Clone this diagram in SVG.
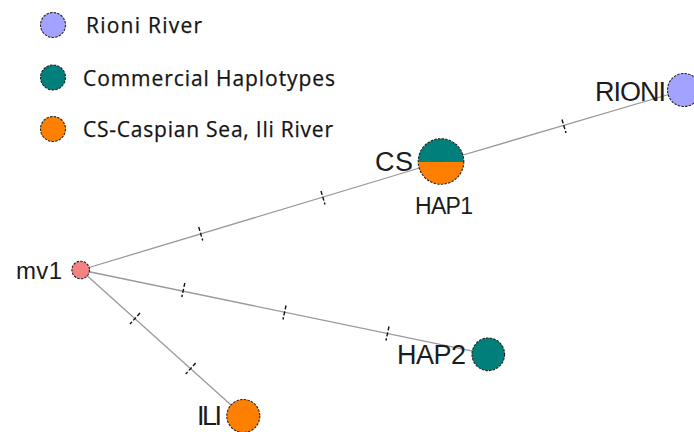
<svg xmlns="http://www.w3.org/2000/svg" width="694" height="432" viewBox="0 0 694 432">
  <style>
    .legend-text { font-family: "Open Sans", "Lato", sans-serif; font-size: 21px; fill: #141414; stroke: #141414; stroke-width: 0.25; }
    .label { font-family: "Liberation Sans", Arial, sans-serif; fill: #1c1c1c; }
    .node { stroke: #222; stroke-width: 1.1; stroke-dasharray: 2.5 1.2; }
    .key { stroke: #222; stroke-width: 1.1; stroke-dasharray: 2.5 1.2; }
    .edge { stroke: #9a9a9a; stroke-width: 1.3; fill: none; }
    .tick { stroke: #111; stroke-width: 1.4; stroke-dasharray: 4 2; }
    .rioni { fill: #a3a3ff; }
    .commercial { fill: #007f7b; }
    .caspian { fill: #ff8000; }
    .median { fill: #f48283; }
  </style>
  <rect width="694" height="432" fill="#ffffff"/>

  <!-- legend -->
  <g id="legend">
    <circle class="key rioni" cx="53" cy="25" r="12.5"/>
    <text class="legend-text" x="86" y="33" textLength="116">Rioni River</text>
    <circle class="key commercial" cx="53" cy="77.5" r="12.5"/>
    <text class="legend-text" x="83" y="86" textLength="252">Commercial Haplotypes</text>
    <circle class="key caspian" cx="53" cy="129" r="12.5"/>
    <text class="legend-text" x="83" y="137" textLength="250">CS-Caspian Sea, Ili River</text>
  </g>

  <!-- connectors with mutation ticks -->
  <g id="connectors">
    <line class="edge" x1="80.7" y1="270" x2="441" y2="161.5"/>
    <line class="edge" x1="441" y1="161.5" x2="684" y2="90"/>
    <line class="edge" x1="80.7" y1="270" x2="488.3" y2="354.3"/>
    <line class="edge" x1="80.7" y1="270" x2="243.3" y2="416"/>
    <!-- mv1 - HAP1 -->
    <line class="tick" x1="198.7" y1="227" x2="202.7" y2="240.5"/>
    <line class="tick" x1="321" y1="191" x2="325" y2="204.5"/>
    <!-- HAP1 - RIONI -->
    <line class="tick" x1="562" y1="119.5" x2="566" y2="133"/>
    <!-- mv1 - HAP2 -->
    <line class="tick" x1="184.8" y1="283" x2="181.8" y2="297"/>
    <line class="tick" x1="286" y1="305.5" x2="283" y2="319.5"/>
    <line class="tick" x1="389" y1="326.5" x2="386" y2="340.5"/>
    <!-- mv1 - ILI -->
    <line class="tick" x1="140" y1="313" x2="130" y2="324"/>
    <line class="tick" x1="195.7" y1="363" x2="185.7" y2="374"/>
  </g>

  <g id="node-mv1">
    <circle class="node median" cx="80.7" cy="270" r="8.8"/>
    <text class="label" x="16" y="279" font-size="24" textLength="46">mv1</text>
  </g>

  <g id="node-HAP1">
    <path class="commercial" d="M418.2 161.5 A22.8 22.8 0 0 1 463.8 161.5 Z"/>
    <path class="caspian" d="M418.2 161.5 A22.8 22.8 0 0 0 463.8 161.5 Z"/>
    <line x1="418.2" y1="161.5" x2="463.8" y2="161.5" stroke="#2a2a2a" stroke-width="0.6"/>
    <circle class="node" cx="441" cy="161.5" r="22.8" fill="none"/>
    <text class="label" x="375" y="171" font-size="27" textLength="38">CS</text>
    <text class="label" x="415" y="214" font-size="23" textLength="58">HAP1</text>
  </g>

  <g id="node-RIONI">
    <circle class="node rioni" cx="684" cy="90" r="16.5"/>
    <text class="label" x="595" y="101" font-size="27" textLength="71">RIONI</text>
  </g>

  <g id="node-HAP2">
    <circle class="node commercial" cx="488.3" cy="354.3" r="16.3"/>
    <text class="label" x="397" y="364" font-size="27" textLength="69">HAP2</text>
  </g>

  <g id="node-ILI">
    <circle class="node caspian" cx="243.3" cy="416" r="16.5"/>
    <text class="label" x="197" y="425" font-size="27" textLength="25">ILI</text>
  </g>
</svg>
